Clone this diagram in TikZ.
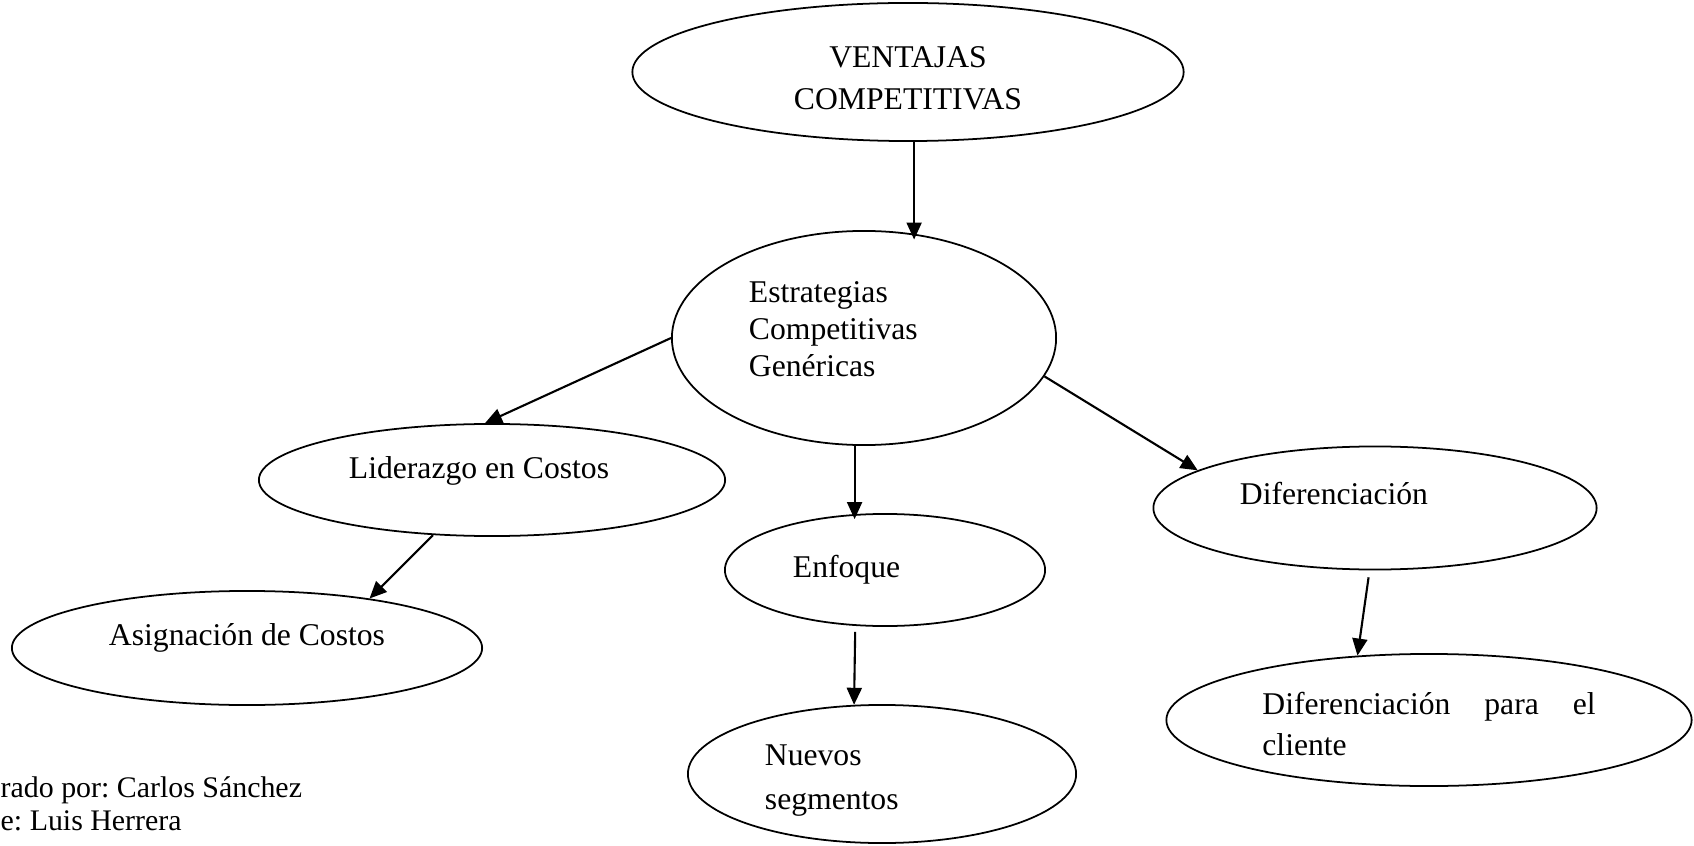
\documentclass[tikz,border=0pt]{standalone}
\usepackage{fontspec}
\setmainfont{Liberation Serif}
\usetikzlibrary{arrows.meta,shapes.geometric}
\frenchspacing

\begin{document}
\begin{tikzpicture}[
    x=0.01cm,y=-0.01cm,
    oval/.style={ellipse,draw,line width=0.5pt,inner sep=0pt,
      font=\fontsize{9}{12}\selectfont},
    arrow/.style={-{Triangle[length=0.17cm,width=0.15cm]},line width=0.6pt},
    note/.style={anchor=west,inner sep=0pt,font=\fontsize{8.5}{10}\selectfont}
  ]
    \useasboundingbox (0,0) rectangle (1694,846);

    \node[oval,minimum width=5.51cm,minimum height=1.38cm,text width=2.4cm,align=center,
      text depth=0.3cm] (vent) at (908,72) {VENTAJAS\\COMPETITIVAS};
    \node[oval,minimum width=3.84cm,minimum height=2.14cm,text width=2.3cm,align=left,
      text depth=0.91cm,font=\fontsize{9}{10.5}\selectfont] (estr) at (864,338) {Estrategias\\Competitivas\\Genéricas};
    \draw[arrow,shorten >=-0.05cm] (vent.-85) -- (vent.-85 |- estr.62);

    \node[oval,minimum width=4.66cm,minimum height=1.12cm,text depth=0.25cm] (lid) at (492,480) {Liderazgo en Costos\rule{0.26cm}{0pt}};
    \node[oval,minimum width=4.7cm,minimum height=1.14cm,text depth=0.26cm] (asig) at (247,648) {Asignación de Costos};
    \draw[arrow] (estr.west) -- (lid.97);
    \draw[arrow] (lid.-137) -- (asig.22);

    \node[oval,minimum width=3.2cm,minimum height=1.12cm,text width=1.84cm,align=left] (enf) at (885,570) {Enfoque};
    \node[oval,minimum width=3.88cm,minimum height=1.38cm,text width=2.34cm,align=left,
      text depth=0.38cm,font=\fontsize{9}{12.5}\selectfont] (nuevos) at (882,774) {Nuevos\\segmentos};
    \draw[arrow,shorten >=-0.06cm] (estr.-95) -- (estr.-95 |- enf.north);
    \draw[arrow,shorten <=0.06cm] (enf.-118) -- (nuevos.112);

    \node[oval,minimum width=4.43cm,minimum height=1.23cm,text width=2.7cm,align=left,text depth=0.3cm] (dif) at (1375,508) {Diferenciación};
    \node[oval,minimum width=5.25cm,minimum height=1.32cm,text width=3.33cm,align=justify,
      text depth=0.33cm,font=\fontsize{9}{11.7}\selectfont] (difcl) at (1429,720) {Diferenciación para el cliente};
    \draw[arrow] (estr.-12) -- (dif.168);
    \draw[arrow,shorten <=0.07cm] (dif.-95) -- (difcl.138);

    \node[note] (elab) at (0,790) {rado por: Carlos Sánchez};
    \node[note] (fuente) at (0,821) {e: Luis Herrera};
\end{tikzpicture}
\end{document}
